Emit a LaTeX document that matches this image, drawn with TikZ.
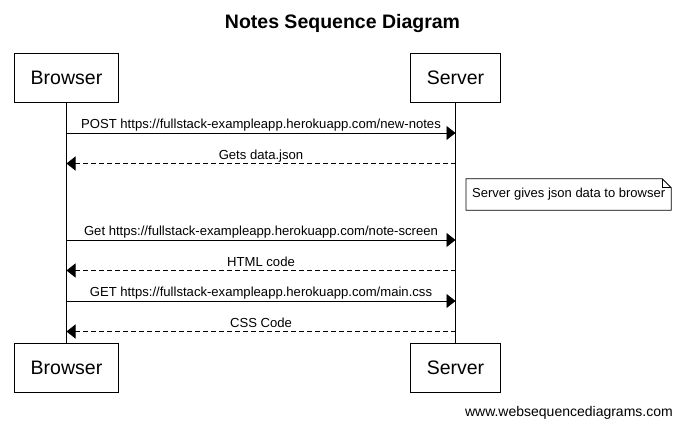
\documentclass[tikz,border=0pt]{standalone}
\usepackage{fontspec}
\setmainfont{Liberation Sans}
\usetikzlibrary{arrows.meta}
\begin{document}
\begin{tikzpicture}[x=1pt,y=-1pt,
  actor/.style={draw,line width=0.9pt,font=\fontsize{19.5}{22}\selectfont,inner xsep=16pt,inner ysep=0pt,minimum height=49pt,anchor=center},
  life/.style={line width=0.9pt},
  msg/.style={line width=0.9pt,-{Triangle[length=9pt,width=14pt]}},
  reply/.style={msg,dash pattern=on 5pt off 3pt},
  lbl/.style={font=\fontsize{13.1}{15}\selectfont,anchor=base,inner sep=0pt,yshift=4pt},
  notebox/.style={font=\fontsize{13}{15}\selectfont,inner xsep=6pt,inner ysep=0pt,minimum height=31pt,anchor=west}
]
\useasboundingbox (0,0) rectangle (683,427);
\fill[white] (0,0) rectangle (683,427);

\node[font=\bfseries\fontsize{19.5}{22}\selectfont] (title) at (342.5,23.5) {Notes Sequence Diagram};

\node[actor] (bt) at (66.5,77.5) {Browser};
\node[actor] (st) at (455.5,77.5) {Server};
\node[actor] (bb) at (66.5,367.5) {Browser};
\node[actor] (sb) at (455.5,367.5) {Server};

\draw[life] (bt.south) -- (bb.north);
\draw[life] (st.south) -- (sb.north);

\foreach \n/\y in {1/133,2/163.5,3/240,4/270.5,5/301,6/331.5}{
  \coordinate (b\n) at (66.5,\y);
  \coordinate (s\n) at (455.5,\y);
}

\draw[msg] (b1) -- node[lbl] (m1) {POST https://fullstack-exampleapp.herokuapp.com/new-notes} (s1);
\draw[reply] (s2) -- node[lbl] (m2) {Gets data.json} (b2);
\draw[msg] (b3) -- node[lbl] (m3) {Get https://fullstack-exampleapp.herokuapp.com/note-screen} (s3);
\draw[reply] (s4) -- node[lbl] (m4) {HTML code} (b4);
\draw[msg] (b5) -- node[lbl] (m5) {GET https://fullstack-exampleapp.herokuapp.com/main.css} (s5);
\draw[reply] (s6) -- node[lbl] (m6) {CSS Code} (b6);

\node[notebox] (note) at (466,194.5) {Server gives json data to browser};
\draw[line width=0.8pt,fill=white] (note.north west) -- ([xshift=-9pt]note.north east) -- ([yshift=-9pt]note.north east) -- (note.south east) -- (note.south west) -- cycle;
\draw[line width=0.8pt] ([xshift=-9pt]note.north east) -- ([xshift=-9pt,yshift=-9pt]note.north east) -- ([yshift=-9pt]note.north east);
\node[notebox] at (note.west) {Server gives json data to browser};

\node[font=\fontsize{14}{16}\selectfont,anchor=east,inner sep=0pt] (footer) at (673,413) {www.websequencediagrams.com};
\end{tikzpicture}
\end{document}
